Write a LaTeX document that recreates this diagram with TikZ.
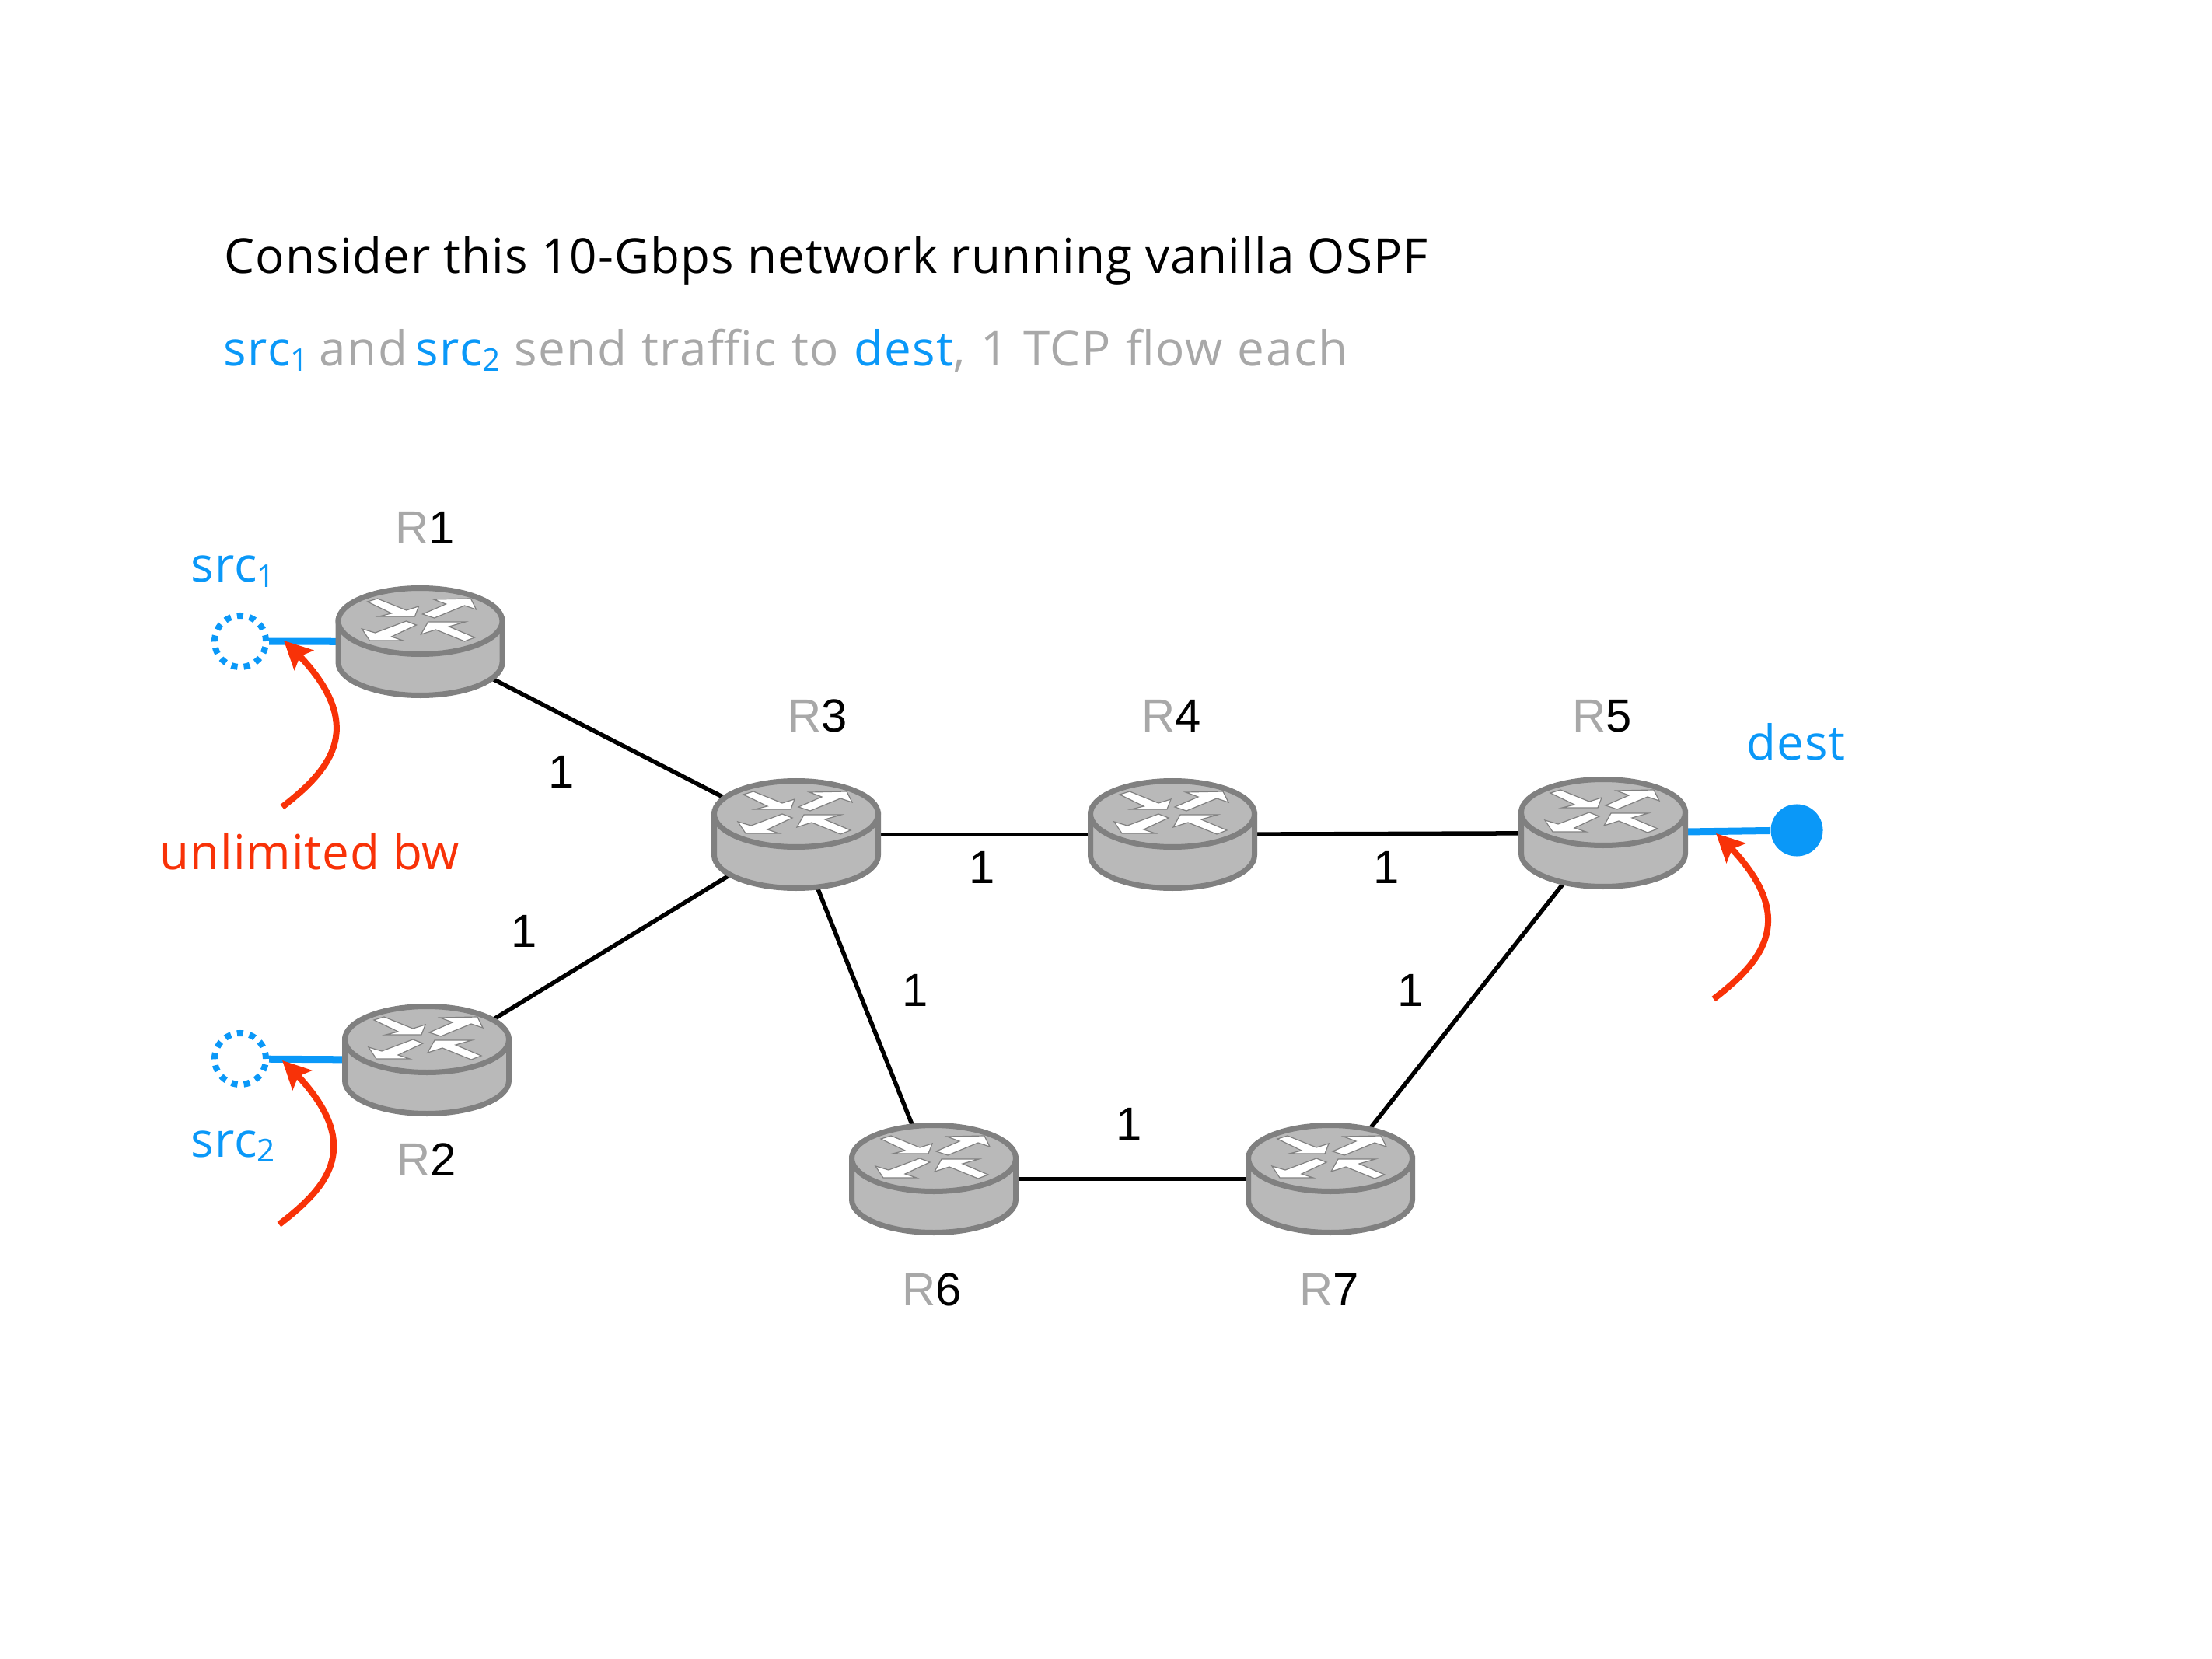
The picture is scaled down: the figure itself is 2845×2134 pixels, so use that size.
\documentclass[tikz,border=0pt]{standalone}
\usepackage{fontspec}
\setmainfont[LetterSpace=1.5]{Open Sans}
\newfontfamily\headfont[LetterSpace=2.4]{Open Sans}
\newfontfamily\titlefont[LetterSpace=1.75]{Open Sans}
\newfontfamily\lblfont{Liberation Sans}
\usetikzlibrary{arrows.meta,bending}
\pgfdeclarelayer{back}
\pgfsetlayers{back,main}
\definecolor{netblue}{HTML}{0A98F8}
\definecolor{netred}{HTML}{F83208}
\definecolor{netgray}{HTML}{A8A8A8}
\definecolor{rtfill}{HTML}{B9B9B9}
\definecolor{rtline}{HTML}{808080}
\newcommand{\bodyfont}{\fontsize{17.6pt}{21pt}\selectfont}
\newcommand{\lblsize}{\lblfont\fontsize{17pt}{20pt}\selectfont}
\newcommand{\sbs}[1]{\raisebox{-0.1em}{\fontsize{11.5pt}{13pt}\selectfont #1}}
\tikzset{
  x=0.01cm,y=-0.01cm,
  txt/.style={inner sep=0pt,anchor=base west,font=\bodyfont},
  headtxt/.style={inner sep=0pt,anchor=base west,font=\headfont\bodyfont},
  titletxt/.style={inner sep=0pt,anchor=base west,font=\titlefont\bodyfont},
  rname/.style={inner sep=0pt,anchor=base,font=\lblsize,text=black},
  weight/.style={inner sep=0pt,anchor=center,font=\lblsize,text=black},
  routerbox/.style={inner sep=0pt,minimum width=2.17cm,minimum height=1.44cm,anchor=center},
  link/.style={draw=black,line width=0.055cm},
  access/.style={draw=netblue,line width=0.09cm},
  callout/.style={draw=netred,line width=0.08cm,-{Stealth[length=0.36cm,width=0.35cm,inset=0.07cm,flex]}},
  hostdot/.style={circle,inner sep=0pt,minimum size=0.66cm},
  arrowmark/.style={fill=white,draw=rtline,line width=0.012cm,line join=miter},
  routerpic/.pic={
    \path[fill=rtfill,draw=rtline,line width=0.07cm]
      (-105.5,-26.5) -- (-105.5,26.5)
      .. controls (-105.5,50) and (-58.3,69) .. (0,69)
      .. controls (58.3,69) and (105.5,50) .. (105.5,26.5)
      -- (105.5,-26.5) -- cycle;
    \path[fill=rtfill,draw=rtline,line width=0.07cm] (0,-26.5) ellipse [x radius=105.5,y radius=42.5];
    \begin{scope}[shift={(0,-26.5)}]
      \path[arrowmark] (-68,-25) -- (-55,-29) -- (-18,-14) -- (-2,-19) -- (-7,-6) -- (-53,-6) -- (-37,-10) -- cycle;
      \path[arrowmark] (3,-9) -- (33,-22) -- (17,-28) -- (65,-29) -- (72,-15) -- (57,-20) -- (18,-4) -- cycle;
      \path[arrowmark] (-75,10) -- (-58,15) -- (-18,0) -- (-5,5) -- (-37,20) -- (-22,25) -- (-65,25) -- cycle;
      \path[arrowmark] (1,17) -- (10,1) -- (58,1) -- (37,7) -- (70,21) -- (57,26) -- (20,11) -- cycle;
    \end{scope}
  }
}
\newcommand{\router}[3]{%
  \node[routerbox] (#1) at (#2,#3) {};
  \pic at (#2,#3) {routerpic};
}
\begin{document}
\begin{tikzpicture}
\useasboundingbox (0,0) rectangle (2845,2134);
% headings
\node[titletxt,text=black] (title) at (288,352) {Consider this 10-Gbps network running vanilla OSPF};
\node[headtxt,text=netgray] (sub) at (287,471) {\textcolor{netblue}{src\sbs{1}}\hspace{-1pt} and\hspace{-2pt} \textcolor{netblue}{src\sbs{2}} send\hspace{0.5pt} traffic\hspace{0.5pt} to\hspace{0.5pt} \textcolor{netblue}{dest},\hspace{0.6pt} 1\hspace{0.6pt} TCP\hspace{0.6pt} flow\hspace{0.6pt} each};
% routers
\router{R1}{540.5}{825.5}
\router{R2}{549}{1363.5}
\router{R3}{1024}{1073.5}
\router{R4}{1508}{1073.5}
\router{R5}{2062}{1071.5}
\router{R6}{1201}{1516.5}
\router{R7}{1711}{1516.5}
% hosts
\node[hostdot,draw=netblue,line width=0.08cm,dash pattern=on 0.08cm off 0.08cm] (src1) at (309,825) {};
\node[hostdot,draw=netblue,line width=0.08cm,dash pattern=on 0.08cm off 0.08cm] (src2) at (309,1362) {};
\node[hostdot,fill=netblue,minimum size=0.67cm] (dest) at (2311,1068) {};
% connectors, behind routers
\begin{pgfonlayer}{back}
\draw[link] (R1.center) -- (R3.center);
\draw[link] (R2.center) -- (R3.center);
\draw[link] (R3.center) -- (R4.center);
\draw[link] (R4.center) -- (R5.center);
\draw[link] (R3.center) -- (R6.center);
\draw[link] (R6.center) -- (R7.center);
\draw[link] (R7.center) -- (R5.center);
\draw[access] (src1) -- (R1.center);
\draw[access] (src2) -- (R2.center);
\draw[access] (R5.center) -- (dest);
\end{pgfonlayer}
% router names
\node[rname] (nR1) at (547,700) {\textcolor{netgray}{R}1};
\node[rname] (nR2) at (549,1512) {\textcolor{netgray}{R}2};
\node[rname] (nR3) at (1052,942) {\textcolor{netgray}{R}3};
\node[rname] (nR4) at (1507,942) {\textcolor{netgray}{R}4};
\node[rname] (nR5) at (2061,942) {\textcolor{netgray}{R}5};
\node[rname] (nR6) at (1199,1679) {\textcolor{netgray}{R}6};
\node[rname] (nR7) at (1710,1679) {\textcolor{netgray}{R}7};
% weights
\node[weight] (w13) at (722,993) {1};
\node[weight] (w23) at (674,1198) {1};
\node[weight] (w34) at (1263,1116) {1};
\node[weight] (w45) at (1783,1116) {1};
\node[weight] (w36) at (1177,1274) {1};
\node[weight] (w75) at (1814,1274) {1};
\node[weight] (w67) at (1452,1446) {1};
% host labels
\node[txt,text=netblue] (lsrc1) at (245,749) {src\sbs{1}};
\node[txt,text=netblue] (lsrc2) at (245,1488) {src\sbs{2}};
\node[txt,text=netblue] (ldest) at (2246,977) {dest};
\node[txt,text=netred] (lbw) at (205,1118) {unlimited bw};
% red callouts
\coordinate (c1s) at (363,1038);
\coordinate (c1t) at (365,824);
\coordinate (c2s) at (359,1575);
\coordinate (c2t) at (363,1364);
\coordinate (c3s) at (2204,1285);
\coordinate (c3t) at (2207,1072);
\draw[callout] (c1s) .. controls (425,990) and (482,930) .. (c1t);
\draw[callout] (c2s) .. controls (421,1527) and (478,1470) .. (c2t);
\draw[callout] (c3s) .. controls (2266,1237) and (2323,1178) .. (c3t);
\end{tikzpicture}
\end{document}
